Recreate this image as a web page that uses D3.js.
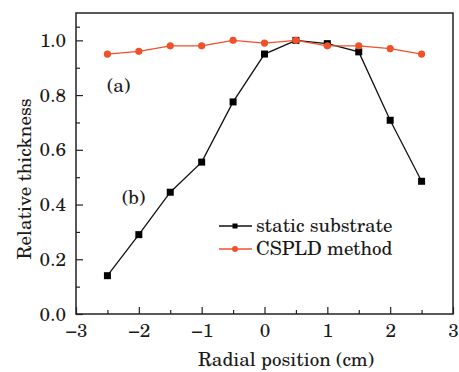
<!DOCTYPE html>
<html>
<head>
<meta charset="utf-8">
<script src="https://cdn.jsdelivr.net/npm/d3@7"></script>
<style>
  body { margin: 0; background: #fff; }
</style>
</head>
<body>
<svg width="459" height="372"></svg>
<script>
const positions = [-2.5, -2, -1.5, -1, -0.5, 0, 0.5, 1, 1.5, 2, 2.5];
const staticSubstrate = [0.14, 0.29, 0.445, 0.555, 0.775, 0.95, 1.0, 0.988, 0.958, 0.708, 0.485];
const cspldMethod = [0.95, 0.96, 0.98, 0.98, 1.0, 0.99, 1.0, 0.98, 0.98, 0.97, 0.95];
const xTicks = [-3, -2, -1, 0, 1, 2, 3];
const yTicks = [0, 0.2, 0.4, 0.6, 0.8, 1.0];

const serif = '"TeX Gyre Schola", "Liberation Serif", serif';
let margin = { left: 76, top: 13, right: 6, bottom: 58 };
let width = 459, height = 372;

let svg = d3.select('svg');

let x = d3.scaleLinear().domain([-3, 3]).range([margin.left, width - margin.right]);
let y = d3.scaleLinear().domain([0, 1.1]).range([height - margin.bottom, margin.top]);

// frame
svg.append('rect')
  .attr('x', x(-3)).attr('y', y(1.1))
  .attr('width', x(3) - x(-3)).attr('height', y(0) - y(1.1))
  .attr('fill', 'none').attr('stroke', '#222').attr('stroke-width', 1.5);

// x axis: major ticks inside, minor at halves
let xAxis = svg.append('g').attr('transform', `translate(0,${y(0)})`)
  .call(d3.axisBottom(x).tickValues(xTicks).tickSize(-7).tickPadding(10)
    .tickFormat(d => d < 0 ? '\u2212' + Math.abs(d) : d));
xAxis.select('.domain').remove();
xAxis.selectAll('.tick line').attr('stroke', '#222').attr('stroke-width', 1.2);
xAxis.selectAll('text').style('font-size', '19px').style('font-family', serif).attr('fill', '#1a1a1a');
svg.append('g').attr('transform', `translate(0,${y(0)})`)
  .call(d3.axisBottom(x).tickValues(d3.range(-2.5, 3, 1)).tickSize(-4).tickFormat(''))
  .call(g => g.select('.domain').remove())
  .selectAll('.tick line').attr('stroke', '#222').attr('stroke-width', 1.2);

// y axis
let yAxis = svg.append('g').attr('transform', `translate(${x(-3)},0)`)
  .call(d3.axisLeft(y).tickValues(yTicks).tickSize(-7).tickPadding(10).tickFormat(d3.format('.1f')));
yAxis.select('.domain').remove();
yAxis.selectAll('.tick line').attr('stroke', '#222').attr('stroke-width', 1.2);
yAxis.selectAll('text').style('font-size', '19px').style('font-family', serif).attr('fill', '#1a1a1a');
svg.append('g').attr('transform', `translate(${x(-3)},0)`)
  .call(d3.axisLeft(y).tickValues([0.1, 0.3, 0.5, 0.7, 0.9, 1.05]).tickSize(-4).tickFormat(''))
  .call(g => g.select('.domain').remove())
  .selectAll('.tick line').attr('stroke', '#222').attr('stroke-width', 1.2);

function label(sel) {
  return sel.style('font-family', serif).style('font-size', '19px').attr('fill', '#1a1a1a');
}

// axis titles
svg.append('text')
  .attr('x', 286).attr('y', 366)
  .attr('text-anchor', 'middle')
  .text('Radial position (cm)').call(label);
svg.append('text')
  .attr('transform', 'translate(31,179) rotate(-90)')
  .attr('text-anchor', 'middle')
  .text('Relative thickness').call(label);

let line = d3.line().x((d, i) => x(positions[i])).y(d => y(d));

// static substrate
svg.append('path').datum(staticSubstrate)
  .attr('d', line).attr('fill', 'none').attr('stroke', '#111').attr('stroke-width', 1.3);
svg.selectAll('rect.sq').data(staticSubstrate).enter().append('rect')
  .attr('class', 'sq')
  .attr('x', (d, i) => x(positions[i]) - 3.5).attr('y', d => y(d) - 3.5)
  .attr('width', 7).attr('height', 7).attr('fill', '#000');

// CSPLD method
const orange = '#f0502a';
svg.append('path').datum(cspldMethod)
  .attr('d', line).attr('fill', 'none').attr('stroke', orange).attr('stroke-width', 1.3);
svg.selectAll('circle.dot').data(cspldMethod).enter().append('circle')
  .attr('class', 'dot')
  .attr('cx', (d, i) => x(positions[i])).attr('cy', d => y(d))
  .attr('r', 3.6).attr('fill', orange);

// annotations
svg.append('text').attr('x', 107).attr('y', 92).text('(a)').call(label);
svg.append('text').attr('x', 122).attr('y', 204).text('(b)').call(label);

// legend
let legend = svg.append('g');
legend.append('line').attr('x1', 219).attr('x2', 252).attr('y1', 226).attr('y2', 226)
  .attr('stroke', '#111').attr('stroke-width', 1.3);
legend.append('rect').attr('x', 232.5).attr('y', 223.5).attr('width', 5).attr('height', 5).attr('fill', '#000');
legend.append('text').attr('x', 256).attr('y', 232).text('static substrate').call(label);
legend.append('line').attr('x1', 219).attr('x2', 252).attr('y1', 249).attr('y2', 249)
  .attr('stroke', orange).attr('stroke-width', 1.3);
legend.append('circle').attr('cx', 235).attr('cy', 249).attr('r', 3).attr('fill', orange);
legend.append('text').attr('x', 256).attr('y', 255).text('CSPLD method').call(label);
</script>
</body>
</html>
